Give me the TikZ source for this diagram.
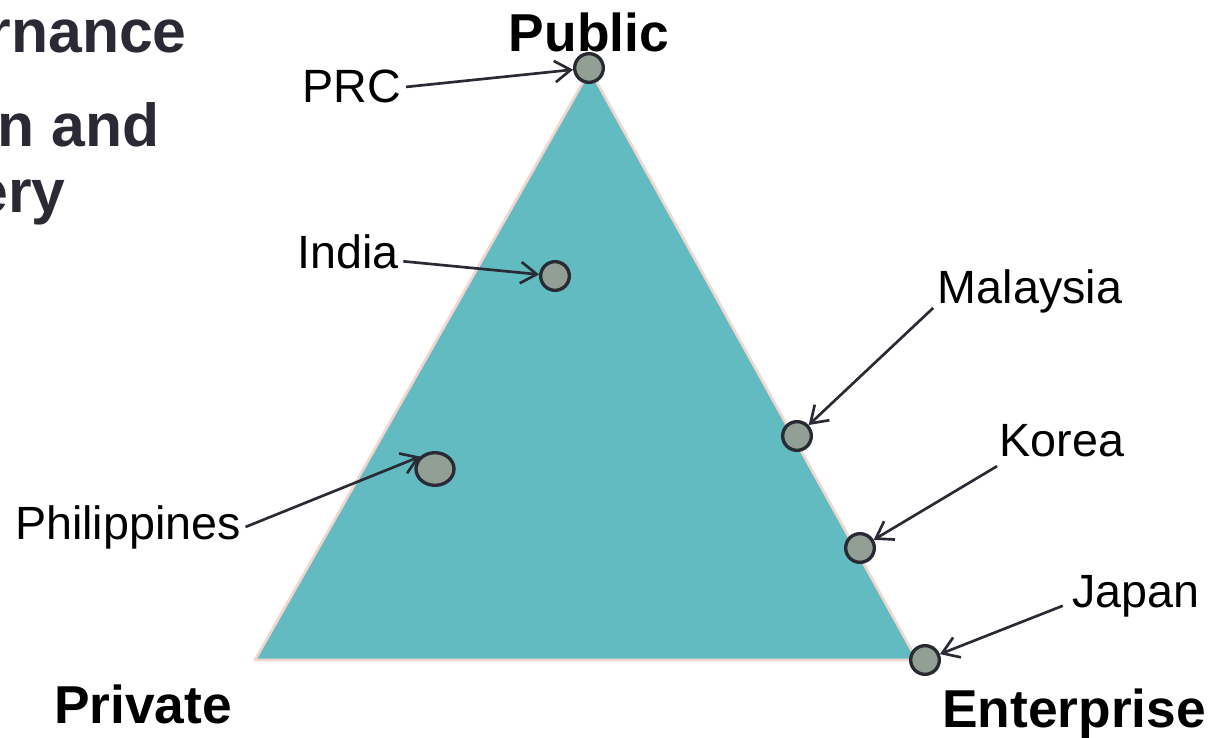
\documentclass[tikz,border=0pt]{standalone}
\usepackage{fontspec}
\setmainfont{Liberation Sans}
\usetikzlibrary{arrows.meta,calc,shapes.geometric}

\definecolor{triteal}{HTML}{62BBC1}
\definecolor{triedge}{HTML}{F2D6CE}
\definecolor{dotgray}{HTML}{929F95}
\definecolor{inkdark}{HTML}{2A2A34}

\tikzset{
  country/.style={font=\fontsize{35}{42}\selectfont, anchor=base},
  corner/.style={font=\bfseries\fontsize{40}{48}\selectfont, anchor=base},
  heading/.style={font=\bfseries\fontsize{45.5}{54}\selectfont, text=inkdark, anchor=base east, inner sep=0pt},
  dot/.style={circle, draw=inkdark, line width=2.5pt, fill=dotgray, minimum size=21.5pt, inner sep=0pt},
  pointer/.style={draw=inkdark, line width=2pt, -{Straight Barb[length=12pt,width=16pt]}},
}

\begin{document}
\begin{tikzpicture}[x=0.75pt, y=-0.75pt]
			%%%%% START %%%%%
			\useasboundingbox (0, 0) rectangle (1211, 738);
			\clip (0, 0) rectangle (1211, 738);
			
			% heading text running off the left side
			\node[heading] (headA) at (187, 53) {rnance};
			\node[heading] (headB) at (160, 147) {n and};
			\node[heading] (headC) at (66, 213) {ery};
			
			% the triangle
			\draw[fill=triteal, draw=triedge, line width=2pt, line join=round]
				(255, 660) -- (590, 70) -- (917, 660) -- cycle;
			
			% corners
			\node[corner] (public) at (589, 52) {Public};
			\node[corner] (private) at (143, 723) {Private};
			\node[corner] (enterprise) at (1074, 727) {Enterprise};
			
			% countries
			\node[dot] (prcdot) at (589, 68) {};
			\node[dot] (indiadot) at (555, 276) {};
			\node[dot, ellipse, minimum width=28.5pt, minimum height=24.5pt] (phildot) at (435, 469) {};
			\node[dot] (malaysiadot) at (797, 436) {};
			\node[dot] (koreadot) at (860, 548) {};
			\node[dot] (japandot) at (925, 660) {};
			
			\node[country] (prc) at (352, 103) {PRC};
			\node[country] (india) at (348, 268) {India};
			\node[country] (phil) at (128, 539) {Philippines};
			\node[country] (malaysia) at (1030, 304) {Malaysia};
			\node[country] (korea) at (1062, 456) {Korea};
			\node[country] (japan) at (1136, 607) {Japan};
			
			\draw[pointer] (prc.east) -- (prcdot);
			\draw[pointer] ($(india.east)+(0, 10)$) -- (indiadot);
			\draw[pointer] (phil.east) -- (phildot.140);
			\draw[pointer] ($(malaysia.west)+(0, 16)$) -- (malaysiadot);
			\draw[pointer] ($(korea.west)+(2, 26)$) -- (koreadot);
			\draw[pointer] ($(japan.west)+(-5, 10)$) -- (japandot);
			
			%%%%% END %%%%%
\end{tikzpicture}
\end{document}
